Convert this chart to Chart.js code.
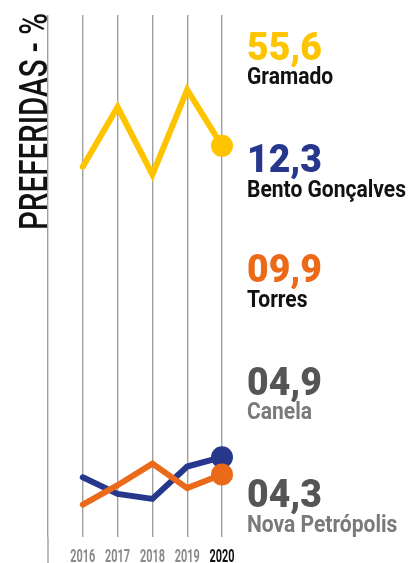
<!DOCTYPE html>
<html>
<head>
<meta charset="utf-8">
<script src="https://cdn.jsdelivr.net/npm/chart.js@4"></script>
<style>
  html, body { margin: 0; padding: 0; background: #fff; overflow: hidden; }
</style>
</head>
<body>
<canvas id="chart" width="409" height="563"></canvas>
<script>
let years = [2016, 2017, 2018, 2019, 2020];
let gramado = [52.7, 61.0, 51.6, 63.4, 55.6];
let bento = [9.5, 7.2, 6.5, 11.0, 12.3];
let torres = [5.7, 8.4, 11.4, 8.0, 9.9];

// right side labels
let cities = ["Gramado", "Bento Gonçalves", "Torres", "Canela", "Nova Petrópolis"];
let latest = ["55,6", "12,3", "09,9", "04,9", "04,3"];
let numColors = ["#ffc400", "#26378c", "#eb6a1a", "#555555", "#555555"];
let nameColors = ["#111111", "#111111", "#111111", "#7a7a7a", "#7a7a7a"];
let numBase = [60, 172, 282, 395, 507];
let nameBase = [84, 197, 307, 419, 532];

function pts(arr) {
  let out = [];
  for (let i = 0; i < arr.length; i++) {
    out.push({ x: years[i], y: arr[i] });
  }
  return out;
}

function lastDot(arr) {
  let r = [];
  for (let i = 0; i < arr.length; i++) r.push(i === arr.length - 1 ? 11 : 0);
  return r;
}

// draws text squeezed horizontally (the original uses a condensed face)
function squeezed(ctx, text, x, y, sx, align) {
  ctx.save();
  ctx.translate(x, y);
  ctx.scale(sx, 1);
  ctx.textAlign = align || "left";
  ctx.fillText(text, 0, 0);
  ctx.restore();
}

let labelsPlugin = {
  id: "sideLabels",
  afterDraw(chart) {
    let ctx = chart.ctx;
    let xs = chart.scales.x;
    ctx.save();
    ctx.textBaseline = "alphabetic";

    let numFont = "900 38px Roboto, 'DejaVu Sans', sans-serif";
    let nameFont = "bold 23px Roboto, 'DejaVu Sans', sans-serif";
    ctx.font = numFont;
    let numSx = 75 / ctx.measureText("12,3").width;
    ctx.font = nameFont;
    let nameSx = 159 / ctx.measureText("Bento Gonçalves").width;

    for (let i = 0; i < cities.length; i++) {
      ctx.font = numFont;
      ctx.fillStyle = numColors[i];
      squeezed(ctx, latest[i], 247, numBase[i], numSx);
      ctx.font = nameFont;
      ctx.fillStyle = nameColors[i];
      squeezed(ctx, cities[i], 247, nameBase[i], nameSx);
    }

    // year labels under the grid lines
    ctx.font = "bold 18px Roboto, 'DejaVu Sans', sans-serif";
    let yearSx = 25 / ctx.measureText("2016").width;
    for (let i = 0; i < years.length; i++) {
      ctx.fillStyle = i === years.length - 1 ? "#111" : "#8a8a8a";
      squeezed(ctx, String(years[i]), xs.getPixelForValue(years[i]), 562, yearSx, "center");
    }

    // first grid line runs down to the bottom edge
    let x0 = xs.getPixelForValue(2015);
    ctx.strokeStyle = "#a0a0a0";
    ctx.lineWidth = 1.4;
    ctx.beginPath();
    ctx.moveTo(x0, chart.chartArea.bottom);
    ctx.lineTo(x0, chart.height);
    ctx.stroke();

    // vertical title
    ctx.font = "500 38px Roboto, 'DejaVu Sans', sans-serif";
    let titleSx = 217 / ctx.measureText("PREFERIDAS - %").width;
    ctx.fillStyle = "#111";
    ctx.translate(47, 230);
    ctx.rotate(-Math.PI / 2);
    squeezed(ctx, "PREFERIDAS - %", 0, 0, titleSx);
    ctx.restore();
  }
};

let series = [
  { label: "Gramado", values: gramado, color: "#ffc400", order: 3 },
  { label: "Bento Gonçalves", values: bento, color: "#26378c", order: 2 },
  { label: "Torres", values: torres, color: "#eb6a1a", order: 1 }
];

new Chart(document.getElementById("chart"), {
  type: "line",
  data: {
    datasets: series.map(function (s) {
      return {
        label: s.label,
        data: pts(s.values),
        borderColor: s.color,
        backgroundColor: s.color,
        order: s.order,
        borderWidth: 6,
        tension: 0,
        borderCapStyle: "round",
        borderJoinStyle: "miter",
        pointRadius: lastDot(s.values),
        pointHoverRadius: lastDot(s.values),
        pointBorderWidth: 0,
        clip: false
      };
    })
  },
  options: {
    responsive: false,
    animation: false,
    events: [],
    layout: { padding: { left: 48, right: 187, top: 15, bottom: 26 } },
    plugins: { legend: { display: false }, tooltip: { enabled: false } },
    scales: {
      x: {
        type: "linear",
        min: 2015,
        max: 2020,
        grid: { color: "#a0a0a0", lineWidth: 1.4, drawTicks: false },
        border: { display: false },
        ticks: { stepSize: 1, display: false }
      },
      y: {
        display: false,
        min: 1.2,
        max: 73.8
      }
    }
  },
  plugins: [labelsPlugin]
});
</script>
</body>
</html>
